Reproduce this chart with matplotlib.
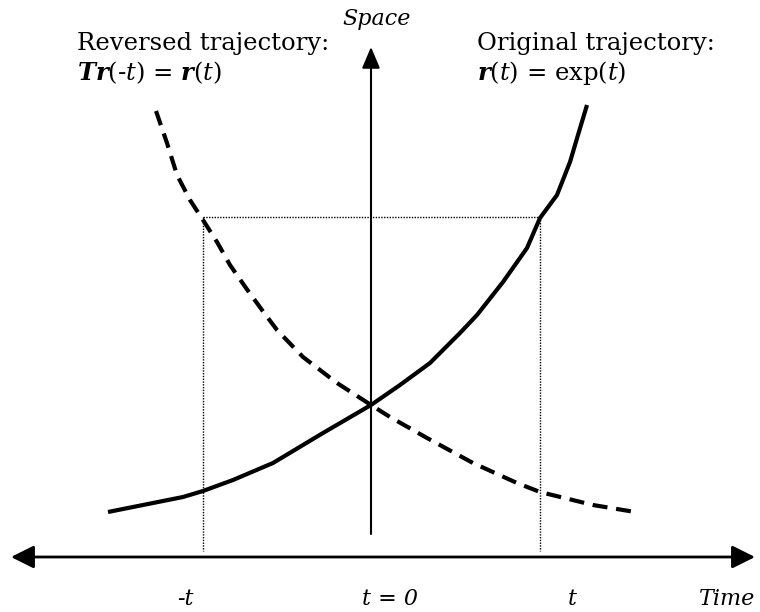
import matplotlib
matplotlib.use("Agg")
import matplotlib.pyplot as plt

plt.rcParams['font.family'] = 'DejaVu Serif'
plt.rcParams['mathtext.fontset'] = 'custom'
plt.rcParams['mathtext.rm'] = 'DejaVu Serif'
plt.rcParams['mathtext.it'] = 'DejaVu Serif:italic'
plt.rcParams['mathtext.bf'] = 'DejaVu Serif:bold'
plt.rcParams['mathtext.bfit'] = 'DejaVu Serif:bold:italic'

# points (pixel coords, y downwards)
orig_x = [108, 183, 203, 233, 273, 323, 371, 400, 430, 460, 477, 503, 527, 540, 557, 570, 578, 587]
orig_y = [512, 497, 491, 480, 463, 433, 405, 385, 363, 333, 315, 282, 248, 218, 195, 162, 135, 105]

rev_x = [156, 167, 177, 190, 203, 217, 230, 246, 262, 277, 303, 337, 371, 390, 427, 473, 517, 540, 593, 635]
rev_y = [111, 143, 175, 200, 220, 242, 265, 288, 310, 330, 357, 383, 405, 417, 438, 463, 483, 492, 505, 512]

# guide positions for -t, t and the level reached
guide_x = [203, 540]
guide_y = 217
guide_bottom = 551

# axes
time_axis_y = 557
time_axis_x = [11, 755]
space_axis_x = 371
space_axis_y = [534, 47]

tick_labels = ['-t', 't = 0', 't']
tick_pos = [185, 390, 572]

fig = plt.figure(figsize=(7.6, 6.12), dpi=100)
ax = fig.add_axes([0, 0, 1, 1])
ax.set_xlim(0, 760)
ax.set_ylim(612, 0)
ax.axis('off')

# dotted guides
ax.plot([guide_x[0], guide_x[1]], [guide_y, guide_y], color='black', lw=1, ls=(0, (1, 1)))
for gx in guide_x:
    ax.plot([gx, gx], [guide_y, guide_bottom], color='black', lw=1, ls=(0, (1, 1)))

# trajectories
ax.plot(orig_x, orig_y, color='black', lw=3, solid_capstyle='butt', solid_joinstyle='round')
ax.plot(rev_x, rev_y, color='black', lw=3, ls=(0, (3.6, 2.1)))

# axes with arrows
ax.annotate('', xy=(time_axis_x[1], time_axis_y), xytext=(time_axis_x[0], time_axis_y),
            arrowprops=dict(arrowstyle='<|-|>,head_length=1.4,head_width=0.7', color='black',
                            lw=2, shrinkA=0, shrinkB=0))
ax.annotate('', xy=(space_axis_x, space_axis_y[1]), xytext=(space_axis_x, space_axis_y[0]),
            arrowprops=dict(arrowstyle='-|>,head_length=1.3,head_width=0.55', color='black',
                            lw=1.5, shrinkA=0, shrinkB=0))

fs = 16
ax.text(377, 25, 'Space', fontsize=fs, style='italic', ha='center', va='baseline')
ax.text(755, 605, 'Time', fontsize=fs, style='italic', ha='right', va='baseline')
for lab, px in zip(tick_labels, tick_pos):
    ax.text(px, 605, lab, fontsize=fs, style='italic', ha='center', va='baseline')

fs2 = 17.5
ax.text(77, 50, 'Reversed trajectory:', fontsize=fs2, va='baseline')
ax.text(77, 80, r'$\mathbfit{Tr}\mathit{(\text{-}t)}$ = $\mathbfit{r}\mathit{(t)}$',
        fontsize=fs2, va='baseline')
ax.text(477, 50, 'Original trajectory:', fontsize=fs2, va='baseline')
ax.text(477, 80, r'$\mathbfit{r}\mathit{(t)}$ = exp($\mathit{t}$)',
        fontsize=fs2, va='baseline')

fig.savefig('out.png', dpi=100, facecolor='white')
